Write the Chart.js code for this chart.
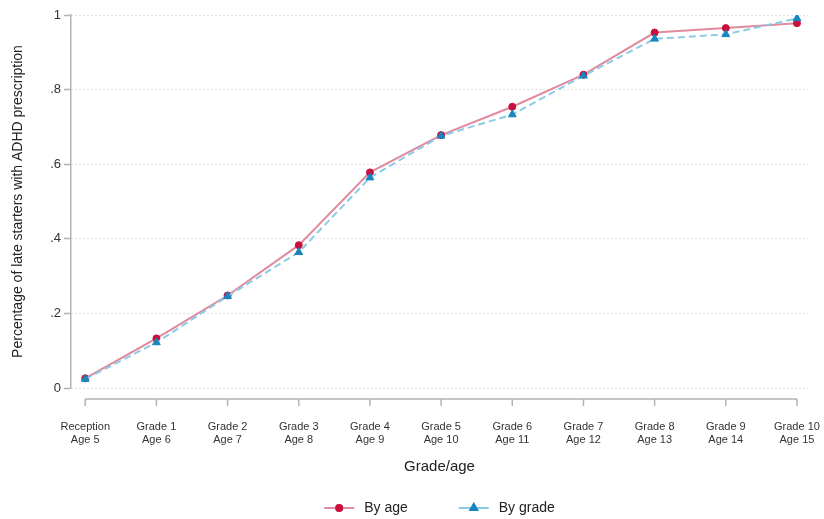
<!DOCTYPE html>
<html>
<head>
<meta charset="utf-8">
<title>Late starters with ADHD prescription</title>
<script src="https://cdn.jsdelivr.net/npm/chart.js@4/dist/chart.umd.min.js"></script>
<style>
  html, body { margin: 0; padding: 0; background: #fff; }
  #wrap { width: 824px; height: 519px; }
</style>
</head>
<body>
<div id="wrap"><canvas id="chart"></canvas></div>
<script>
// grade / age categories along the x axis
const grades = ['Reception', 'Grade 1', 'Grade 2', 'Grade 3', 'Grade 4', 'Grade 5',
                'Grade 6', 'Grade 7', 'Grade 8', 'Grade 9', 'Grade 10'];
const ages = ['Age 5', 'Age 6', 'Age 7', 'Age 8', 'Age 9', 'Age 10',
              'Age 11', 'Age 12', 'Age 13', 'Age 14', 'Age 15'];

// share of late starters with an ADHD prescription
const byAge   = [0.026, 0.133, 0.248, 0.383, 0.578, 0.678, 0.754, 0.840, 0.953, 0.965, 0.978];
const byGrade = [0.024, 0.122, 0.246, 0.364, 0.564, 0.676, 0.733, 0.837, 0.936, 0.948, 0.991];

const yTicks = [0, 0.2, 0.4, 0.6, 0.8, 1];
const yTickLabels = ['0', '.2', '.4', '.6', '.8', '1'];

const FONT = "'Liberation Sans', Arial, sans-serif";
const AXIS_GREY = '#b3b3b3';

const RED = '#c8103c';
const RED_LINE = '#e08a9e';
const BLUE = '#1686bf';
const BLUE_LINE = '#8ccbe4';

function toPoints(vals) {
  return vals.map((v, i) => ({ x: i, y: v }));
}

// x axis sits a little below the plot in the original, drawn off the x scale
const xAxisLine = {
  id: 'xAxisLine',
  afterDraw(chart) {
    const ctx = chart.ctx;
    const xs = chart.scales.x;
    const y0 = chart.chartArea.bottom + 11;
    ctx.save();
    ctx.strokeStyle = AXIS_GREY;
    ctx.lineWidth = 1.5;
    ctx.beginPath();
    ctx.moveTo(xs.getPixelForValue(0), y0);
    ctx.lineTo(xs.getPixelForValue(grades.length - 1), y0);
    grades.forEach((g, i) => {
      const px = xs.getPixelForValue(i);
      ctx.moveTo(px, y0);
      ctx.lineTo(px, y0 + 7);
    });
    ctx.stroke();
    ctx.restore();
  }
};

// legend with line + marker samples, like the original
const lineLegend = {
  id: 'lineLegend',
  afterDraw(chart) {
    const ctx = chart.ctx;
    const area = chart.chartArea;
    const cy = 508;
    ctx.save();
    ctx.font = '14px ' + FONT;
    ctx.textBaseline = 'middle';
    const items = chart.data.datasets.map(ds => ({
      text: ds.label,
      w: 30 + 10 + ctx.measureText(ds.label).width,
      ds: ds
    }));
    const gap = 51;
    const total = items.reduce((s, it) => s + it.w, 0) + gap * (items.length - 1);
    let x = (area.left + area.right) / 2 - total / 2;
    items.forEach(it => {
      ctx.strokeStyle = it.ds.borderColor;
      ctx.lineWidth = 2;
      ctx.setLineDash([]);
      ctx.beginPath();
      ctx.moveTo(x, cy);
      ctx.lineTo(x + 30, cy);
      ctx.stroke();
      Chart.helpers.drawPoint(ctx, {
        pointStyle: it.ds.pointStyle,
        radius: it.ds.pointRadius - 0.5,
        borderWidth: 1
      }, x + 15, cy);
      ctx.fillStyle = it.ds.pointBackgroundColor;
      ctx.strokeStyle = it.ds.pointBorderColor;
      ctx.fill();
      ctx.stroke();
      ctx.fillStyle = '#222';
      ctx.fillText(it.text, x + 40, cy);
      x += it.w + gap;
    });
    ctx.restore();
  }
};

new Chart(document.getElementById('chart'), {
  type: 'line',
  data: {
    datasets: [
      {
        label: 'By age',
        data: toPoints(byAge),
        borderColor: RED_LINE,
        borderWidth: 2,
        pointStyle: 'circle',
        pointRadius: 3.5,
        pointBackgroundColor: RED,
        pointBorderColor: RED,
        pointBorderWidth: 1,
        order: 2
      },
      {
        label: 'By grade',
        data: toPoints(byGrade),
        borderColor: BLUE_LINE,
        borderWidth: 2,
        borderDash: [7, 4],
        pointStyle: 'triangle',
        pointRadius: 4.5,
        pointBackgroundColor: BLUE,
        pointBorderColor: BLUE,
        pointBorderWidth: 1,
        order: 1
      }
    ]
  },
  options: {
    responsive: true,
    maintainAspectRatio: false,
    animation: false,
    layout: { padding: { top: 15, right: 16, bottom: 0, left: 0 } },
    plugins: {
      legend: { display: false },
      tooltip: { enabled: false }
    },
    scales: {
      x: {
        type: 'linear',
        min: -0.2,
        max: 10.155,
        afterBuildTicks: scale => {
          scale.ticks = grades.map((g, i) => ({ value: i }));
        },
        afterFit: scale => {
          scale.height = 131;
          scale.paddingLeft = 0;
          scale.paddingRight = 0;
        },
        grid: { display: false },
        border: { display: false },
        ticks: {
          autoSkip: false,
          maxRotation: 0,
          padding: 24,
          color: '#333',
          font: { family: FONT, size: 11 },
          callback: v => [grades[v], ages[v]]
        },
        title: {
          display: true,
          text: 'Grade/age',
          color: '#222',
          font: { family: FONT, size: 15 },
          padding: { top: 0, bottom: 43 }
        }
      },
      y: {
        min: 0,
        max: 1,
        afterBuildTicks: scale => {
          scale.ticks = yTicks.map(v => ({ value: v }));
        },
        afterFit: scale => { scale.width = 71; },
        grid: {
          color: '#d6d6d6',
          lineWidth: 1,
          drawTicks: true,
          tickLength: 7,
          tickColor: AXIS_GREY,
          tickWidth: 1.5
        },
        border: { display: true, color: AXIS_GREY, width: 1.5, dash: [1.5, 2.5] },
        ticks: {
          padding: 3,
          color: '#333',
          font: { family: FONT, size: 13 },
          callback: (v, i) => yTickLabels[i]
        },
        title: {
          display: true,
          text: 'Percentage of late starters with ADHD prescription',
          color: '#222',
          font: { family: FONT, size: 14 },
          padding: { top: 10, bottom: 0 }
        }
      }
    }
  },
  plugins: [xAxisLine, lineLegend]
});
</script>
</body>
</html>
